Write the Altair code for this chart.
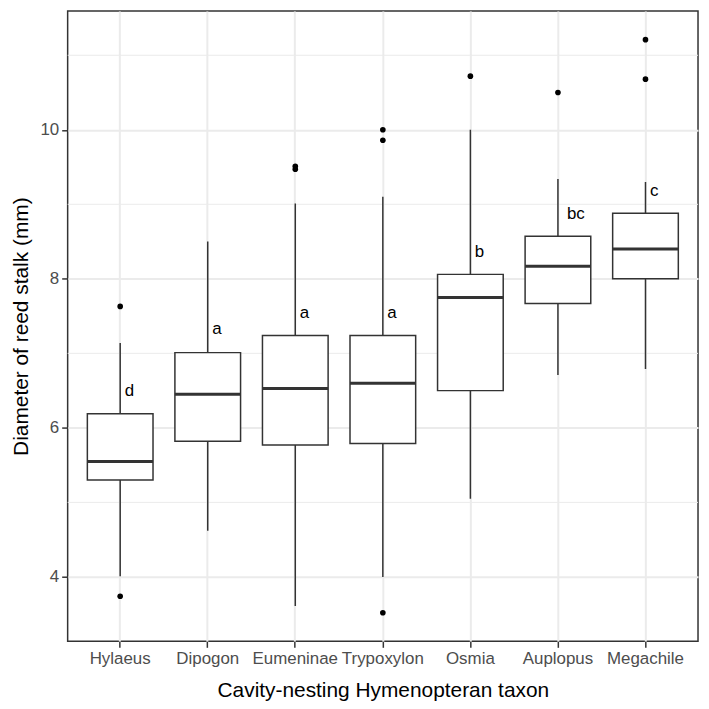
import altair as alt
import pandas as pd

# ---- data ----
taxa = ["Hylaeus", "Dipogon", "Eumeninae", "Trypoxylon", "Osmia", "Auplopus", "Megachile"]
whisker_low = [4.01, 4.62, 3.61, 4.00, 5.05, 6.71, 6.79]
q1 = [5.30, 5.82, 5.77, 5.79, 6.50, 7.67, 8.00]
median = [5.55, 6.45, 6.53, 6.60, 7.75, 8.17, 8.40]
q3 = [6.19, 7.01, 7.24, 7.24, 8.06, 8.57, 8.88]
whisker_high = [7.14, 8.50, 9.01, 9.10, 10.00, 9.34, 9.30]
letters = ["d", "a", "a", "a", "b", "bc", "c"]
letter_y = [6.50, 7.32, 7.54, 7.54, 8.36, 8.87, 9.18]

outlier_taxa = ["Hylaeus", "Hylaeus", "Eumeninae", "Eumeninae", "Trypoxylon",
                "Trypoxylon", "Trypoxylon", "Osmia", "Auplopus", "Megachile", "Megachile"]
outlier_vals = [7.63, 3.74, 9.47, 9.51, 10.00, 9.86, 3.52, 10.72, 10.50, 11.21, 10.68]

y_ticks = [4, 6, 8, 10]
y_minor = [5, 7, 9, 11]

x_title = "Cavity-nesting Hymenopteran taxon"
y_title = "Diameter of reed stalk (mm)"

# ---- tables ----
boxes = pd.DataFrame({
    "taxon": taxa, "lo": whisker_low, "q1": q1, "med": median,
    "q3": q3, "hi": whisker_high, "label": letters, "label_y": letter_y,
})
outliers = pd.DataFrame({"taxon": outlier_taxa, "value": outlier_vals})
minor = pd.DataFrame({"v": y_minor})

all_vals = whisker_low + whisker_high + outlier_vals
lo_d, hi_d = min(all_vals), max(all_vals)
ext = (hi_d - lo_d) * 0.05
y_domain = [lo_d - ext, hi_d + ext]

FONT = "Liberation Sans, Arial, sans-serif"
INK = "#333333"

x_scale = alt.Scale(domain=taxa, paddingInner=0.25, paddingOuter=0.225)
y_scale = alt.Scale(domain=y_domain, nice=False, zero=False)

x_enc = alt.X("taxon:N", scale=x_scale, sort=taxa,
              axis=alt.Axis(title=x_title, labelAngle=0, labelPadding=3,
                            titlePadding=13, grid=True, bandPosition=0.5))
y_axis = alt.Axis(title=y_title, values=y_ticks, labelPadding=3, titlePadding=8)

minor_grid = alt.Chart(minor).mark_rule(color="#EBEBEB", strokeWidth=1).encode(
    y=alt.Y("v:Q", scale=y_scale, axis=y_axis)
)

whiskers = alt.Chart(boxes).mark_rule(color=INK, strokeWidth=1.5).encode(
    x=x_enc,
    y=alt.Y("lo:Q", scale=y_scale, axis=y_axis),
    y2="hi:Q",
)

box = alt.Chart(boxes).mark_bar(fill="white", stroke=INK, strokeWidth=1.5).encode(
    x=x_enc,
    y=alt.Y("q1:Q", scale=y_scale, axis=y_axis),
    y2="q3:Q",
)

med = alt.Chart(boxes).mark_bar(fill="none", stroke=INK, strokeWidth=3).encode(
    x=x_enc,
    y=alt.Y("med:Q", scale=y_scale, axis=y_axis),
    y2="med:Q",
)

pts = alt.Chart(outliers).mark_circle(color="black", opacity=1, size=32).encode(
    x=x_enc,
    y=alt.Y("value:Q", scale=y_scale, axis=y_axis),
)

txt_single = alt.Chart(boxes).transform_filter("length(datum.label) == 1").mark_text(
    align="left", baseline="middle", dx=4.5, fontSize=17, font=FONT, color="black"
).encode(
    x=x_enc,
    y=alt.Y("label_y:Q", scale=y_scale, axis=y_axis),
    text="label:N",
)

txt_double = alt.Chart(boxes).transform_filter("length(datum.label) > 1").mark_text(
    align="left", baseline="middle", dx=9, fontSize=17, font=FONT, color="black"
).encode(
    x=x_enc,
    y=alt.Y("label_y:Q", scale=y_scale, axis=y_axis),
    text="label:N",
)

chart = alt.layer(minor_grid, whiskers, box, med, pts, txt_single, txt_double).properties(
    width=634, height=634,
    padding={"left": 3, "top": 1, "right": 2, "bottom": 0},
    background="white",
).configure_view(
    stroke=INK, strokeWidth=1.5
).configure_axis(
    domain=False,
    tickColor=INK, tickWidth=1.5, tickSize=6,
    labelColor="#4D4D4D", labelFontSize=17, labelFont=FONT,
    titleColor="black", titleFontSize=21, titleFont=FONT, titleFontWeight="normal",
    gridColor="#EBEBEB", gridWidth=2,
)

chart.save("out.html", embed_options={"renderer": "svg", "actions": False})
